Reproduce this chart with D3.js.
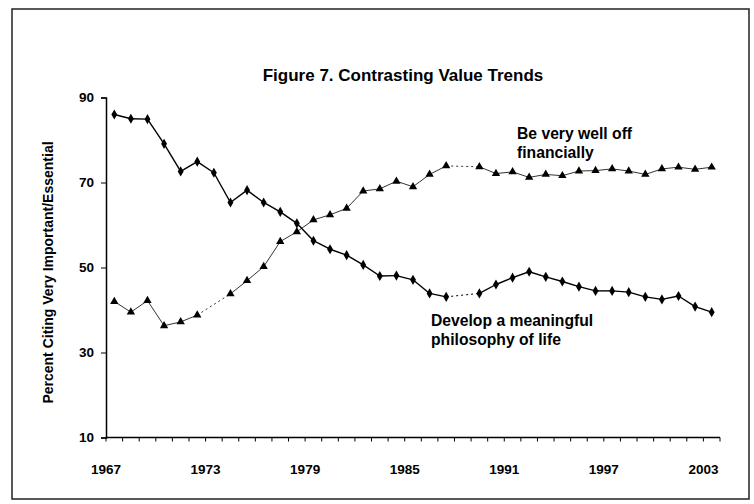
<!DOCTYPE html>
<html>
<head>
<meta charset="utf-8">
<script src="https://cdn.jsdelivr.net/npm/d3@7"></script>
<style>
  body { margin: 0; background: #fff; }
  svg { font-family: Arial, 'Liberation Sans', Helvetica, sans-serif; }
</style>
</head>
<body>
<svg class="chart" width="754" height="504"></svg>
<script>
const years = [1967, 1968, 1969, 1970, 1971, 1972, 1973, 1974, 1975, 1976, 1977, 1978, 1979,
  1980, 1981, 1982, 1983, 1984, 1985, 1986, 1987, 1988, 1989, 1990, 1991, 1992, 1993,
  1994, 1995, 1996, 1997, 1998, 1999, 2000, 2001, 2002, 2003]

// "Develop a meaningful philosophy of life" (null = no survey value)
const philosophy = [86.0, 85.0, 84.9, 79.1, 72.6, 74.9, 72.3, 65.3, 68.2, 65.3, 63.1, 60.4, 56.3,
  54.3, 52.9, 50.6, 48.0, 48.1, 47.1, 43.9, 43.1, null, 43.9, 46.0, 47.6, 49.0, 47.8,
  46.7, 45.5, 44.5, 44.5, 44.2, 43.1, 42.5, 43.3, 40.8, 39.5]

// "Be very well off financially"
const financial = [42.0, 39.5, 42.2, 36.3, 37.2, 38.8, null, 43.8, 46.9, 50.2, 56.1, 58.4, 61.2,
  62.4, 63.9, 68.0, 68.5, 70.3, 69.0, 71.9, 73.9, null, 73.7, 72.1, 72.5, 71.2, 71.9,
  71.6, 72.7, 72.8, 73.2, 72.7, 71.9, 73.2, 73.6, 73.1, 73.6]

const yTicks = [10, 30, 50, 70, 90]
const xLabels = [1967, 1973, 1979, 1985, 1991, 1997, 2003]

const svg = d3.select('.chart')

const x = d3.scaleBand().domain(years).range([106, 720])
const y = d3.scaleLinear().domain([10, 90]).range([437.5, 97.5])
const cx = yr => x(yr) + x.bandwidth() / 2

// outer frame
svg.append('rect')
.attr('x', 12).attr('y', 9)
.attr('width', 737).attr('height', 490)
.attr('fill', 'none')
.attr('stroke', '#222')
.attr('stroke-width', 1.5)

svg.append('text')
.attr('x', 403).attr('y', 81)
.attr('text-anchor', 'middle')
.attr('font-size', 17)
.attr('font-weight', 'bold')
.text('Figure 7. Contrasting Value Trends')

// y axis
const yAxis = svg.append('g')
.attr('transform', 'translate(106,0)')
.call(d3.axisLeft(y).tickValues(yTicks).tickSize(5).tickPadding(7))
yAxis.select('.domain').attr('stroke', '#000').attr('stroke-width', 1.5)
yAxis.selectAll('text').attr('font-size', 13.5).attr('font-weight', 'bold').attr('fill', '#000').attr('font-family', null)

svg.append('text')
.attr('transform', 'translate(53,272.5) rotate(-90)')
.attr('text-anchor', 'middle')
.attr('font-size', 14)
.attr('font-weight', 'bold')
.text('Percent Citing Very Important/Essential')

// x axis: ticks on every category boundary, labels every 6 years at the boundary
const xAxis = svg.append('g')
xAxis.append('line')
.attr('x1', 106).attr('x2', 720)
.attr('y1', y(10)).attr('y2', y(10))
.attr('stroke', '#000')
.attr('stroke-width', 1.5)
xAxis.selectAll('.tick')
.data(years.concat([null]))
.enter()
.append('line')
.attr('x1', d => d === null ? 720 : x(d))
.attr('x2', d => d === null ? 720 : x(d))
.attr('y1', y(10)).attr('y2', y(10) + 4)
.attr('stroke', '#000')
xAxis.selectAll('text')
.data(xLabels)
.enter()
.append('text')
.attr('x', d => x(d))
.attr('y', 473.5)
.attr('text-anchor', 'middle')
.attr('font-size', 13.5)
.attr('font-weight', 'bold')
.text(d => d)

function drawSeries(values, symbol, width, color) {
  const pts = years.map((yr, i) => ({ yr: yr, v: values[i] })).filter(d => d.v !== null)
  const line = d3.line().x(d => cx(d.yr)).y(d => y(d.v))
  const g = svg.append('g')
  // connect across missing years with a dotted segment
  for (let i = 1; i < pts.length; i++) {
    const gap = years.indexOf(pts[i].yr) - years.indexOf(pts[i - 1].yr) > 1
    g.append('path')
    .attr('d', line([pts[i - 1], pts[i]]))
    .attr('fill', 'none')
    .attr('stroke', color)
    .attr('stroke-width', gap ? 1 : width)
    .attr('stroke-dasharray', gap ? '2,3' : null)
  }
  g.selectAll('.mark')
  .data(pts)
  .enter()
  .append('path')
  .attr('transform', d => `translate(${cx(d.yr)},${y(d.v)})`)
  .attr('d', d3.symbol().type(symbol).size(30))
  .attr('fill', '#000')
}

drawSeries(financial, d3.symbolTriangle, 1, '#333')
drawSeries(philosophy, d3.symbolDiamond, 1.4, '#000')

const notes = [
  { x: 517, y: 138.5, text: 'Be very well off' },
  { x: 517, y: 158, text: 'financially' },
  { x: 431, y: 325.5, text: 'Develop a meaningful' },
  { x: 431, y: 345, text: 'philosophy of life' }
]
svg.selectAll('.note')
.data(notes)
.enter()
.append('text')
.attr('x', d => d.x)
.attr('y', d => d.y)
.attr('font-size', 15.7)
.attr('font-weight', 'bold')
.text(d => d.text)
</script>
</body>
</html>
